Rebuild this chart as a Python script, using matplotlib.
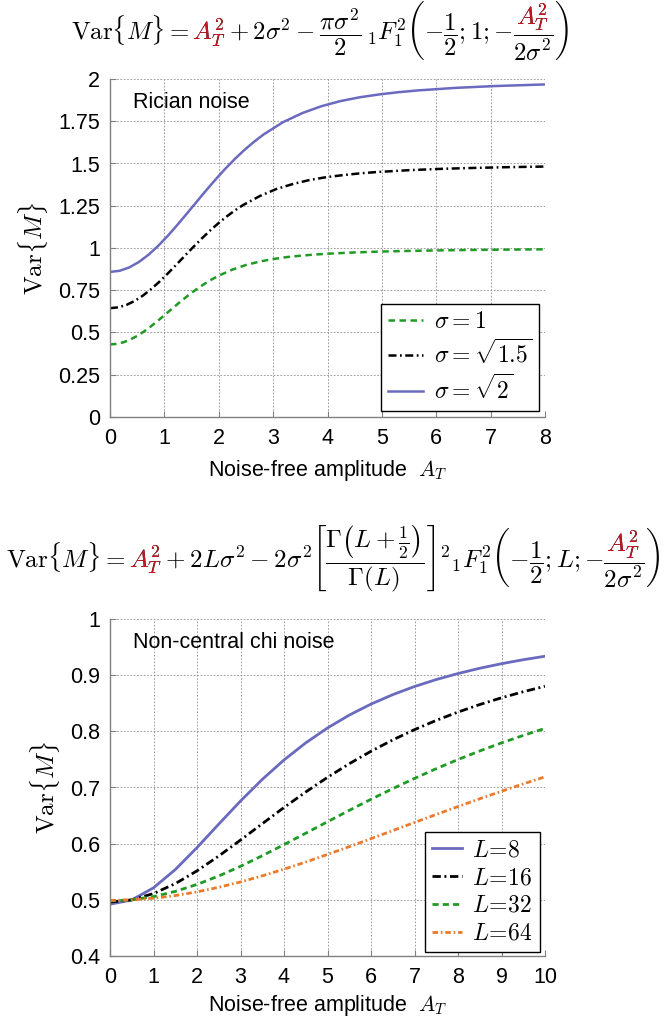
import matplotlib
matplotlib.use('Agg')
import matplotlib.pyplot as plt
from matplotlib.transforms import Bbox, IdentityTransform

plt.rcParams['mathtext.fontset'] = 'cm'
plt.rcParams['font.family'] = ['Liberation Sans', 'DejaVu Sans']

# ---------------- Rician noise (top) ----------------
A_sig1 = [0, 0.125, 0.25, 0.375, 0.5, 0.625, 0.75, 0.875, 1, 1.125, 1.25, 1.375, 1.5,
          1.625, 1.75, 1.875, 2, 2.25, 2.5, 2.75, 3, 3.25, 3.5, 3.75, 4, 4.5, 5, 5.5,
          6, 6.5, 7, 7.5, 8]
V_sig1 = [0.4292, 0.4326, 0.4424, 0.4584, 0.4799, 0.5060, 0.5357, 0.5681, 0.6019,
          0.6363, 0.6704, 0.7033, 0.7346, 0.7638, 0.7905, 0.8147, 0.8363, 0.8721,
          0.8994, 0.9196, 0.9348, 0.9462, 0.9543, 0.9609, 0.9662, 0.9738, 0.9791,
          0.9828, 0.9857, 0.9879, 0.9896, 0.9909, 0.9921]
A_sig15 = [0, 0.153, 0.306, 0.459, 0.612, 0.765, 0.919, 1.072, 1.225, 1.378, 1.531,
           1.684, 1.837, 1.990, 2.143, 2.296, 2.449, 2.76, 3.06, 3.37, 3.67, 3.98,
           4.29, 4.59, 4.90, 5.51, 6.12, 6.74, 7.35, 8.0]
V_sig15 = [0.6438, 0.6489, 0.6636, 0.6876, 0.7199, 0.7590, 0.8036, 0.8521, 0.9029,
           0.9545, 1.0056, 1.0550, 1.1019, 1.1456, 1.1857, 1.2220, 1.2544, 1.3082,
           1.3491, 1.3794, 1.4022, 1.4193, 1.4314, 1.4414, 1.4493, 1.4607, 1.4687,
           1.4742, 1.4786, 1.4820]
A_sig2 = [0, 0.177, 0.354, 0.530, 0.707, 0.884, 1.061, 1.237, 1.414, 1.591, 1.768,
          1.945, 2.121, 2.298, 2.475, 2.652, 2.828, 3.18, 3.54, 3.89, 4.24, 4.60,
          4.95, 5.30, 5.66, 6.36, 7.07, 7.78, 8.0]
V_sig2 = [0.8584, 0.8651, 0.8849, 0.9169, 0.9598, 1.0120, 1.0715, 1.1361, 1.2038,
          1.2726, 1.3408, 1.4067, 1.4692, 1.5275, 1.5810, 1.6293, 1.6725, 1.7443,
          1.7988, 1.8392, 1.8695, 1.8923, 1.9086, 1.9218, 1.9324, 1.9476, 1.9582,
          1.9656, 1.9677]
labels_top = [r'$\sigma = 1$', r'$\sigma = \sqrt{1.5}$', r'$\sigma = \sqrt{2}$']
yticks_top = [0, 0.25, 0.5, 0.75, 1, 1.25, 1.5, 1.75, 2]
yticklabels_top = ['0', '0.25', '0.5', '0.75', '1', '1.25', '1.5', '1.75', '2']

# ---------------- Non-central chi noise (bottom) ----------------
A_nc = [0, 0.5, 1, 1.5, 2, 2.5, 3, 3.5, 4, 4.5, 5, 5.5, 6, 6.5, 7, 7.5, 8, 8.5, 9, 9.5, 10]
V_L8 = [0.4922, 0.4998, 0.5214, 0.5538, 0.5930, 0.6348, 0.6759, 0.7144, 0.7490, 0.7795,
        0.8060, 0.8289, 0.8485, 0.8653, 0.8798, 0.8922, 0.9029, 0.9123, 0.9204, 0.9275, 0.9337]
V_L16 = [0.4961, 0.4999, 0.5112, 0.5288, 0.5516, 0.5780, 0.6064, 0.6355, 0.6644, 0.6920,
         0.7181, 0.7423, 0.7645, 0.7847, 0.8030, 0.8195, 0.8343, 0.8477, 0.8597, 0.8705, 0.8802]
V_L32 = [0.4980, 0.5000, 0.5057, 0.5150, 0.5274, 0.5425, 0.5597, 0.5785, 0.5983, 0.6186,
         0.6390, 0.6593, 0.6790, 0.6980, 0.7162, 0.7335, 0.7498, 0.7651, 0.7794, 0.7927, 0.8052]
V_L64 = [0.4990, 0.5000, 0.5029, 0.5076, 0.5142, 0.5223, 0.5318, 0.5427, 0.5546, 0.5673,
         0.5808, 0.5947, 0.6089, 0.6233, 0.6377, 0.6520, 0.6661, 0.6799, 0.6933, 0.7064, 0.7190]
labels_bot = [r'$L\!=\!8$', r'$L\!=\!16$', r'$L\!=\!32$', r'$L\!=\!64$']
yticks_bot = [0.4, 0.5, 0.6, 0.7, 0.8, 0.9, 1.0]
yticklabels_bot = ['0.4', '0.5', '0.6', '0.7', '0.8', '0.9', '1']

BLUE = '#6a6abf'
GREEN = '#1f9a24'
ORANGE = '#ec7a2a'
RED = '#c8141e'

W_PX, H_PX = 666, 1019
fig = plt.figure(figsize=(W_PX / 100, H_PX / 100), dpi=100)
ax1 = fig.add_axes([110 / W_PX, 1 - 417 / H_PX, 435 / W_PX, 338 / H_PX])
ax2 = fig.add_axes([110 / W_PX, 1 - 956 / H_PX, 435 / W_PX, 337 / H_PX])


def style_ax(ax, xmax, yticks, yticklabels):
    ax.set_xlim(0, xmax)
    ax.set_ylim(yticks[0], yticks[-1])
    ax.set_xticks(list(range(xmax + 1)))
    ax.set_yticks(yticks)
    ax.set_yticklabels(yticklabels)
    ax.grid(True, color='0.55', lw=0.6, ls=(0, (2, 2)))
    ax.set_axisbelow(True)
    for s in ['top', 'right']:
        ax.spines[s].set_visible(False)
    for s in ['left', 'bottom']:
        ax.spines[s].set_color('0.5')
        ax.spines[s].set_linewidth(1.0)
    ax.tick_params(direction='in', length=4, width=0.8, color='0.5', labelsize=15.5)
    ax.tick_params(axis='x', pad=8)
    ax.tick_params(axis='y', pad=7)
    ax.set_ylabel(r'$\mathrm{Var}\{M\}$', fontsize=18, labelpad=6)
    ax.set_xlabel(r'Noise-free amplitude  $A_T$', fontsize=15.5)


style_ax(ax1, 8, yticks_top, yticklabels_top)
style_ax(ax2, 10, yticks_bot, yticklabels_bot)

ax1.plot(A_sig1, V_sig1, color=GREEN, lw=1.8, ls=(0, (2.6, 1.8)), label=labels_top[0])
ax1.plot(A_sig15, V_sig15, color='k', lw=1.8, ls=(0, (3.2, 1.4, 0.7, 1.4)), label=labels_top[1])
ax1.plot(A_sig2, V_sig2, color=BLUE, lw=1.8, ls='-', label=labels_top[2])

ax2.plot(A_nc, V_L8, color=BLUE, lw=2.0, ls='-', label=labels_bot[0])
ax2.plot(A_nc, V_L16, color='k', lw=2.0, ls=(0, (3.0, 1.3, 0.7, 1.3)), label=labels_bot[1])
ax2.plot(A_nc, V_L32, color=GREEN, lw=2.0, ls=(0, (2.2, 1.5)), label=labels_bot[2])
ax2.plot(A_nc, V_L64, color=ORANGE, lw=2.0, ls=(0, (2.0, 1.0, 0.6, 1.0)), label=labels_bot[3])

ax1.text(0.053, 1 - 23 / 338, 'Rician noise', transform=ax1.transAxes,
         fontsize=15.5, va='center', ha='left')
ax2.text(0.053, 1 - 23 / 337, 'Non-central chi noise', transform=ax2.transAxes,
         fontsize=15.5, va='center', ha='left')

for ax, anchor, hl in [(ax1, (0.986, 0.018), 1.5), (ax2, (0.9885, 0.012), 1.25)]:
    leg = ax.legend(loc='lower right', bbox_to_anchor=anchor, borderaxespad=0,
                    fontsize=17, frameon=True, fancybox=False, edgecolor='k',
                    framealpha=1, handlelength=hl, handletextpad=0.45,
                    labelspacing=0.25, borderpad=0.3)
    leg.get_frame().set_linewidth(1.0)

ax1.xaxis.set_label_coords(0.5, (417 - 471) / 338)
ax1.xaxis.label.set_va('center')
ax2.xaxis.set_label_coords(0.5, (956 - 1006) / 337)
ax2.xaxis.label.set_va('center')

renderer = fig.canvas.get_renderer()


def text_width(s, fs):
    t = fig.text(0, 0, s, fontsize=fs)
    w = t.get_window_extent(renderer).width
    t.remove()
    return w


def formula(full, regions, cx, axis_y_top, target_w):
    fs = 20.0
    fs = fs * target_w / text_width(full, fs)
    wfull = text_width(full, fs)
    x0 = cx - wfull / 2
    em = fs * fig.dpi / 72.0
    th = 0.0625 * em
    base = H_PX - axis_y_top - 0.25 * em
    kw = dict(fontsize=fs, va='baseline', ha='left', transform=IdentityTransform())
    fig.text(x0, base, full, color='k', **kw)
    for p_start, p_end, above in regions:
        xs = x0 + text_width(p_start, fs) - 1.0
        xe = x0 + text_width(p_end, fs) + 1.0
        ylo = base + 0.25 * em + th if above else 0
        t = fig.text(x0, base, full, color=RED, **kw)
        t.set_clip_box(Bbox([[xs, ylo], [xe, H_PX]]))
        t.set_clip_on(True)


head = r'\mathrm{Var}\{M\} = '
frac_red = r'\dfrac{A_T^2}{2\sigma^2}'

f1_mid = r' + 2\sigma^2 - \dfrac{\pi\sigma^2}{2}\,{}_1F_1^2\left(-\dfrac{1}{2};1;'
f1_full = '$' + head + 'A_T^2' + f1_mid + '{-' + frac_red + r'}\right)$'
f1_regions = [
    ('$' + head + '$', '$' + head + 'A_T^2$', False),
    ('$' + head + 'A_T^2' + f1_mid + r'{-}\right.$',
     '$' + head + 'A_T^2' + f1_mid + '{-' + frac_red + r'}\right.$', True),
]
formula(f1_full, f1_regions, 320, 34, 499)

f2_mid = (r' + 2L\sigma^2 - 2\sigma^2{\left[\dfrac{\Gamma\left(L+\frac{1}{2}\right)}'
          r'{\Gamma(L)}\right]}^2{}_1F_1^2\left(-\dfrac{1}{2};L;')
f2_full = '$' + head + 'A_T^2' + f2_mid + '{-' + frac_red + r'}\right)$'
f2_regions = [
    ('$' + head + '$', '$' + head + 'A_T^2$', False),
    ('$' + head + 'A_T^2' + f2_mid + r'{-}\right.$',
     '$' + head + 'A_T^2' + f2_mid + '{-' + frac_red + r'}\right.$', True),
]
formula(f2_full, f2_regions, 333, 561, 658)

fig.savefig('out.png', dpi=100)
